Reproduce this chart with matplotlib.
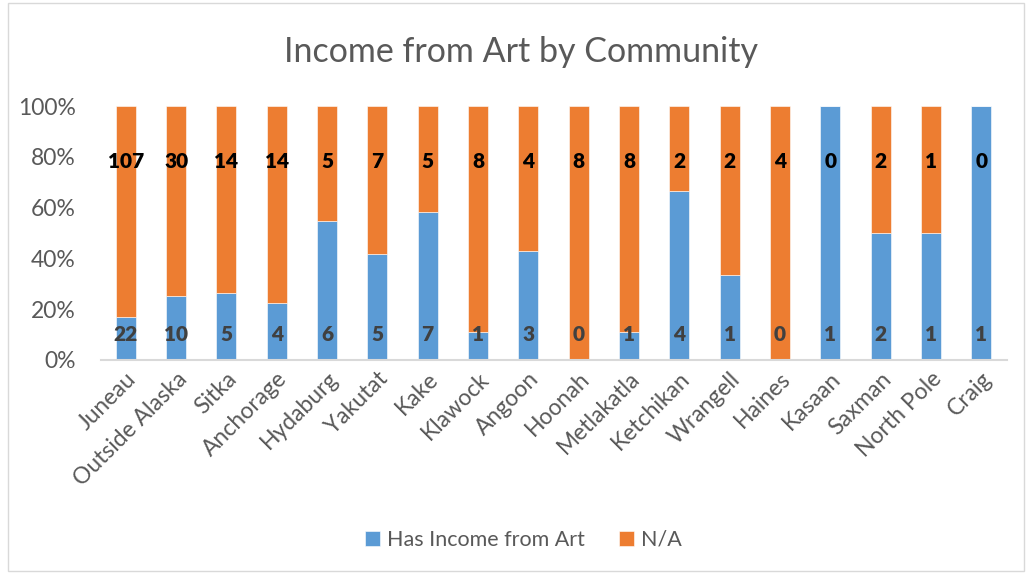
import matplotlib
matplotlib.use("Agg")
import matplotlib.pyplot as plt
import numpy as np
from matplotlib.patches import Rectangle

# ── data ────────────────────────────────────────────────────────────────────
communities = ["Juneau", "Outside Alaska", "Sitka", "Anchorage", "Hydaburg",
               "Yakutat", "Kake", "Klawock", "Angoon", "Hoonah", "Metlakatla",
               "Ketchikan", "Wrangell", "Haines", "Kasaan", "Saxman",
               "North Pole", "Craig"]
has_income = [22, 10, 5, 4, 6, 5, 7, 1, 3, 0, 1, 4, 1, 0, 1, 2, 1, 1]
not_avail  = [107, 30, 14, 14, 5, 7, 5, 8, 4, 8, 8, 2, 2, 4, 0, 2, 1, 0]

BLUE   = "#5B9BD5"
ORANGE = "#ED7D31"
TEXT   = "#595959"

plt.rcParams["font.family"] = ["Lato", "DejaVu Sans"]

inc = np.array(has_income, dtype=float)
na  = np.array(not_avail, dtype=float)
tot = inc + na
inc_pct = inc / tot
na_pct  = na / tot

fig = plt.figure(figsize=(10.26, 5.73), dpi=100)
ax = fig.add_axes([0.098, 0.372, 0.883, 0.443])

x = np.arange(len(communities))
b1 = ax.bar(x, inc_pct, width=0.4, color=BLUE, edgecolor="white", lw=0.4,
            label="Has Income from Art")
b2 = ax.bar(x, na_pct, width=0.4, bottom=inc_pct, color=ORANGE,
            edgecolor="white", lw=0.4, label="N/A")

# count labels: income near the base, N/A near the top
for xi, v in zip(x, has_income):
    ax.text(xi, 0.098, str(v), ha="center", va="center", fontsize=15,
            fontweight="heavy", color="#404040")
for xi, v in zip(x, not_avail):
    ax.text(xi, 0.78, str(v), ha="center", va="center", fontsize=15,
            fontweight="heavy", color="black")

ax.set_xlim(-0.5, len(communities) - 0.5)
ax.set_ylim(0, 1)
ax.set_yticks(np.linspace(0, 1, 6))
ax.set_yticklabels([f"{int(t*100)}%" for t in np.linspace(0, 1, 6)])
ax.set_xticks(x)
ax.set_xticklabels(communities, rotation=45, ha="right",
                   rotation_mode="anchor")
ax.tick_params(axis="both", length=0, labelsize=16.5, colors=TEXT)
ax.tick_params(axis="y", pad=18)
ax.tick_params(axis="x", pad=6)

for s in ["top", "right", "left"]:
    ax.spines[s].set_visible(False)
ax.spines["bottom"].set_color("#D9D9D9")
ax.spines["bottom"].set_linewidth(1.5)

fig.text(0.508, 0.91, "Income from Art by Community", ha="center",
         va="center", fontsize=24.5, color=TEXT)

fig.legend(handles=[b1, b2], loc="center", bbox_to_anchor=(0.51, 0.058),
           ncol=2, frameon=False, fontsize=15.5, labelcolor=TEXT,
           handlelength=0.7, handleheight=0.7, handletextpad=0.3,
           columnspacing=1.6)

# chart area border
fig.patches.append(Rectangle((0.008, 0.004), 0.99, 0.99,
                             transform=fig.transFigure, fill=False,
                             edgecolor="#D9D9D9", lw=1.0))

fig.savefig("out.png", dpi=100)
